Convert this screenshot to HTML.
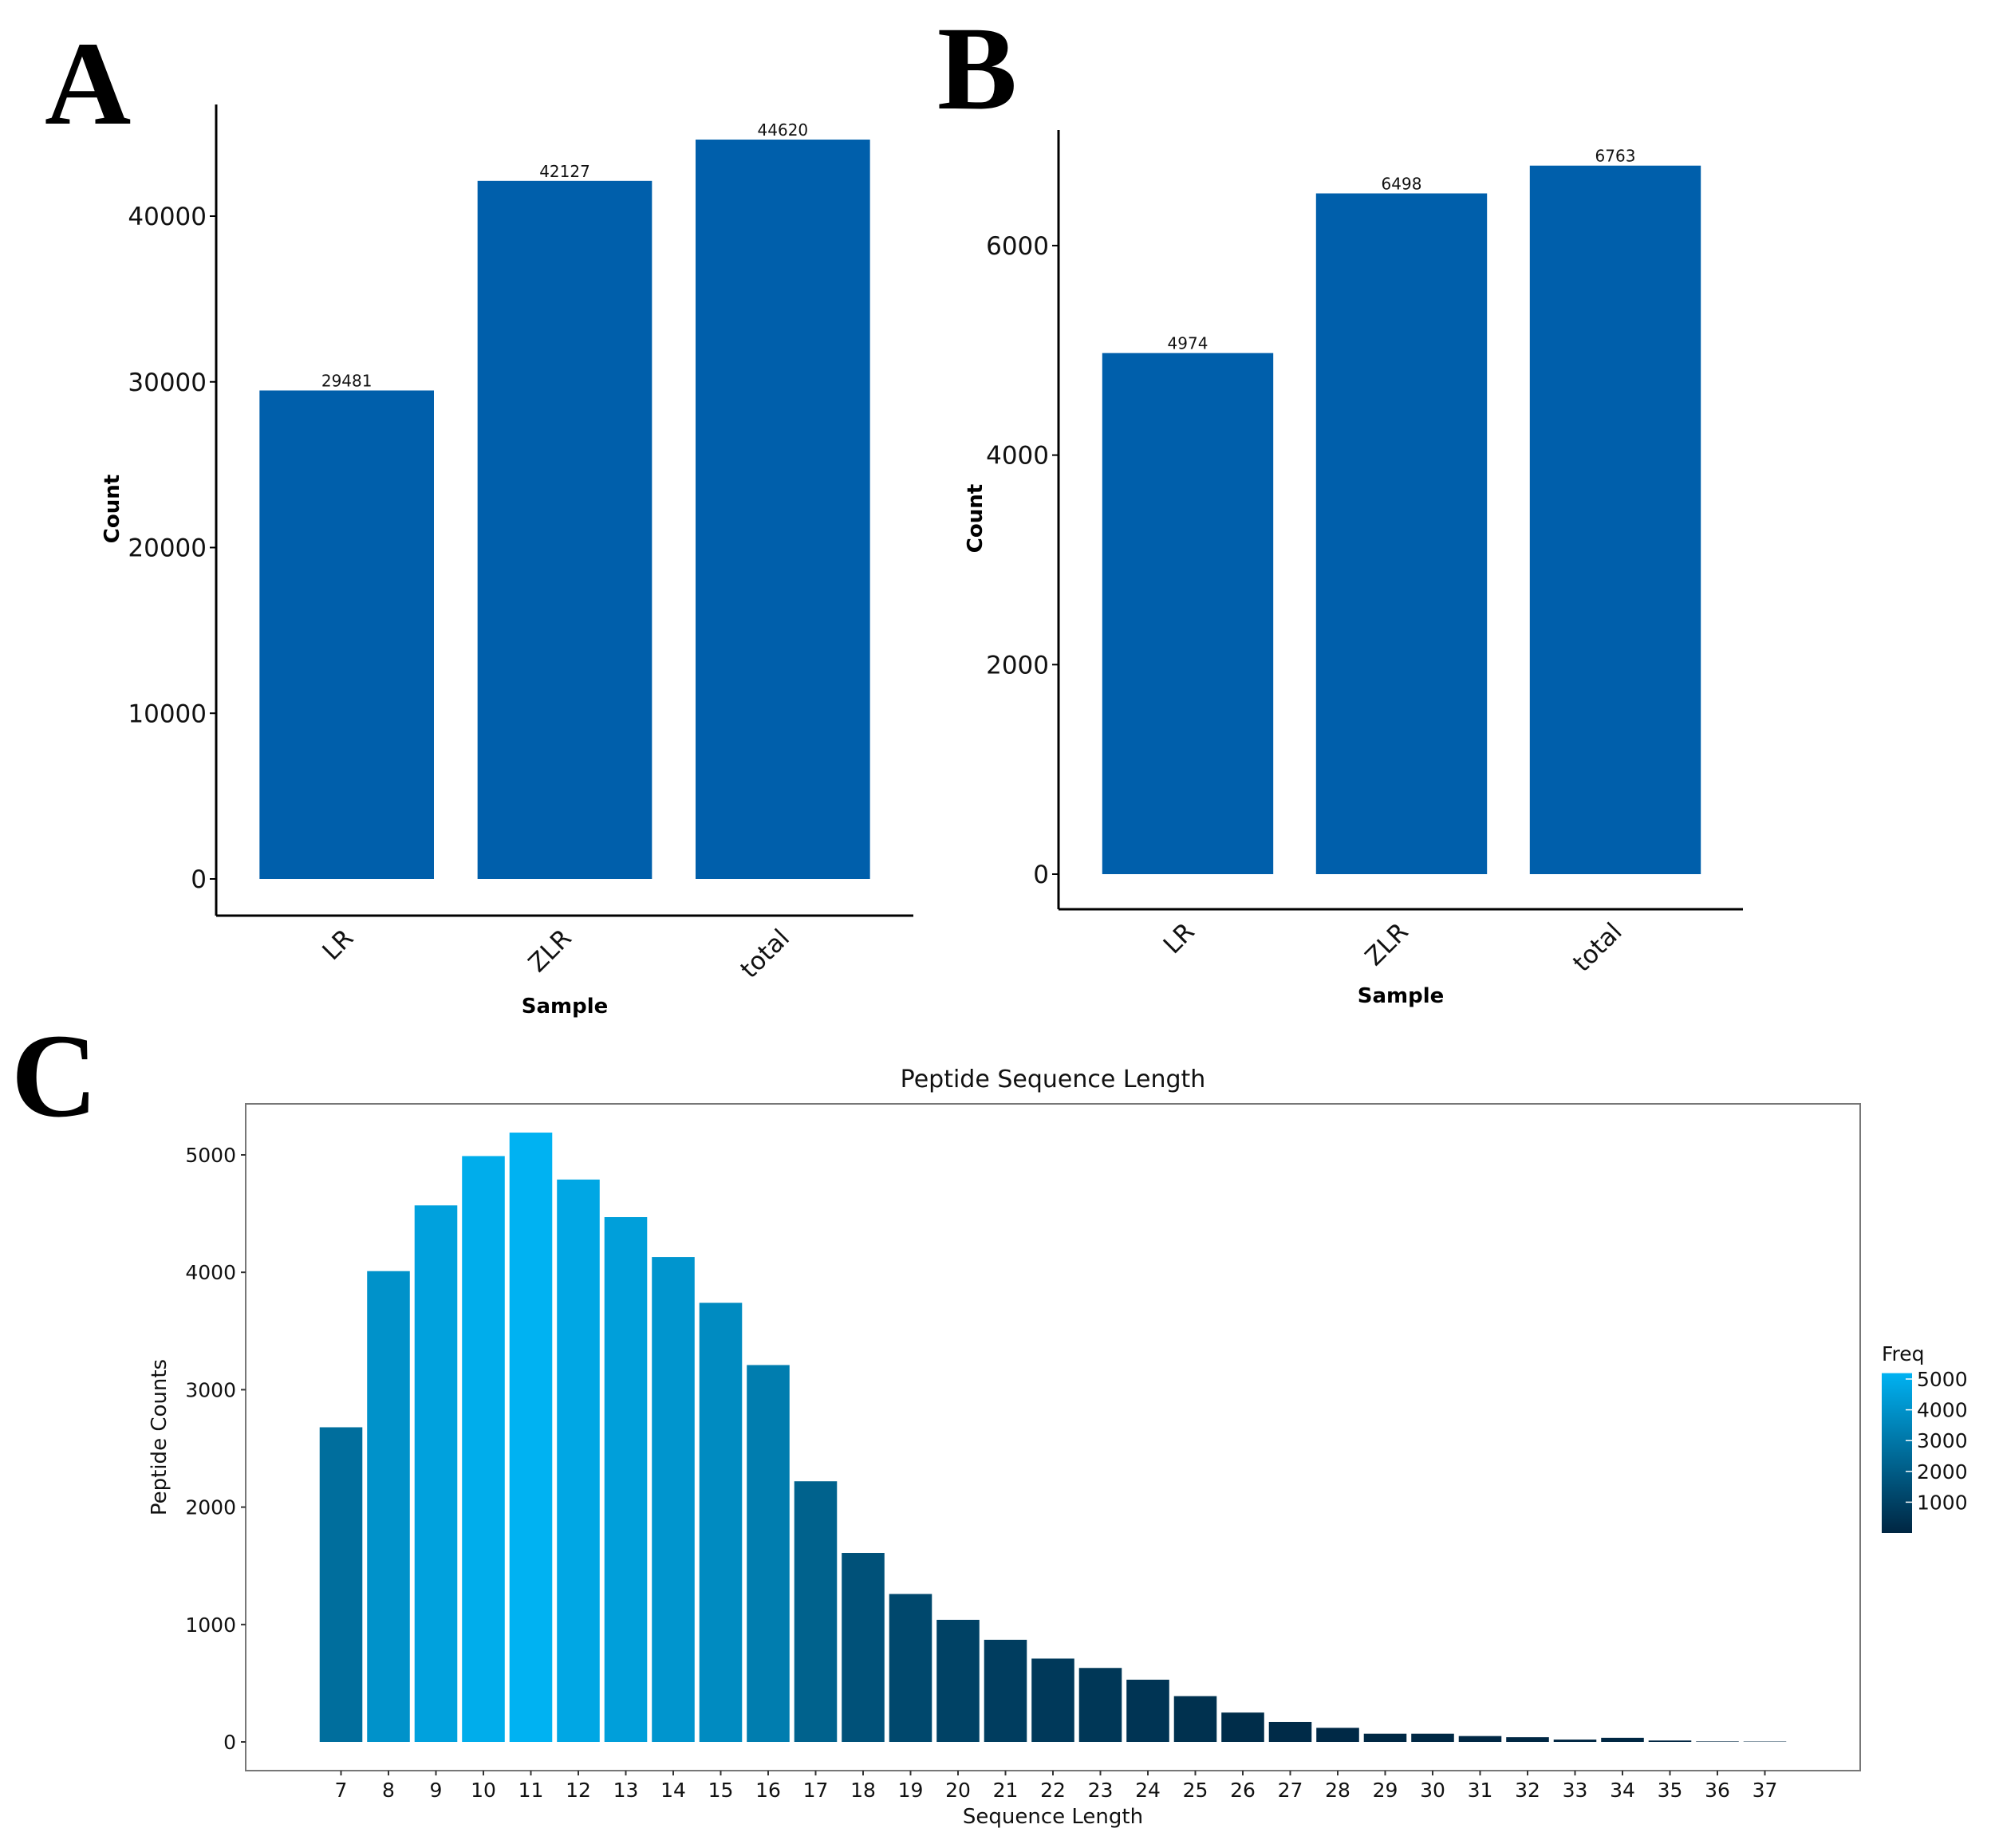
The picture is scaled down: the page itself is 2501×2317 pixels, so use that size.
<!DOCTYPE html>
<html><head><meta charset="utf-8"><style>
html,body{margin:0;padding:0;background:#fff}
svg{display:block}
text{font-family:"DejaVu Sans","Liberation Sans",sans-serif}
</style></head><body>
<svg id="fig" width="2501" height="2317" viewBox="0 0 2501 2317" xmlns="http://www.w3.org/2000/svg">
<text x="56" y="155" font-weight="bold" font-size="150" style="font-family:'Liberation Serif',serif">A</text>
<text x="1175" y="136" font-weight="bold" font-size="150" style="font-family:'Liberation Serif',serif">B</text>
<text x="14" y="1399" font-weight="bold" font-size="150" style="font-family:'Liberation Serif',serif">C</text>
<g id="pa"></g>
<g id="pb"></g>
<g id="pc"></g>
</svg>
<script>
const samplesA = ["LR","ZLR","total"];
const countsA = [29481,42127,44620];
const ticksA = [0,10000,20000,30000,40000];
const samplesB = ["LR","ZLR","total"];
const countsB = [4974,6498,6763];
const ticksB = [0,2000,4000,6000];
const lengthsC = [7,8,9,10,11,12,13,14,15,16,17,18,19,20,21,22,23,24,25,26,27,28,29,30,31,32,33,34,35,36,37];
const freqC = [2680,4010,4570,4990,5190,4790,4470,4130,3740,3210,2220,1610,1260,1040,870,710,630,530,390,250,170,120,70,70,50,40,20,35,12,4,3];
const ticksC = [0,1000,2000,3000,4000,5000];
const legendTicks = [1000,2000,3000,4000,5000];

const NS="http://www.w3.org/2000/svg";
function mk(parent,tag,attrs,txt){const e=document.createElementNS(NS,tag);for(const k in attrs)e.setAttribute(k,attrs[k]);if(txt!==undefined)e.textContent=txt;parent.appendChild(e);return e;}

function barPanel(g,cats,vals,ticks,cfg){
  const y=v=>cfg.y0-(v/cfg.tickStep)*cfg.tickPx;
  const band=(cfg.xEnd-cfg.xStart)/cats.length;
  const x=i=>cfg.xStart+band*i;
  let ax=mk(g,'line',{x1:cfg.axX,y1:cfg.axTop,x2:cfg.axX,y2:cfg.axBot,stroke:'#000','stroke-width':3});
  
  
  ax=mk(g,'line',{x1:cfg.axX,y1:cfg.axBot,x2:cfg.axRight,y2:cfg.axBot,stroke:'#000','stroke-width':3});
  
  
  ticks.forEach(t=>{
    const tk=mk(g,'line',{x1:cfg.axX-8,y1:y(t),x2:cfg.axX,y2:y(t),stroke:'#000','stroke-width':2});
    
    
    const tl=mk(g,'text',{x:cfg.axX-12,y:y(t)+11,'text-anchor':'end','font-size':31,fill:'#111'},String(t));
    
    
  });
  vals.forEach((v,i)=>{
    const w=band*cfg.frac, bx=x(i)+(band-w)/2;
    const r=mk(g,'rect',{x:bx,y:y(v),width:w,height:cfg.y0-y(v),fill:'#005fab'});
    
    
    const vl=mk(g,'text',{x:bx+w/2,y:y(v)-5,'text-anchor':'middle','font-size':20,fill:'#111'},String(v));
    
    
    const cx=bx+w/2;
    const cl=mk(g,'text',{x:cx+10,y:cfg.axBot+30,'text-anchor':'end','font-size':31,fill:'#111',transform:`rotate(-45 ${cx+10} ${cfg.axBot+30})`},cats[i]);
    
    
  });
  const yt=mk(g,'text',{x:cfg.ylabX,y:cfg.ylabY,'text-anchor':'middle','font-size':26,'font-weight':'bold',transform:`rotate(-90 ${cfg.ylabX} ${cfg.ylabY})`},'Count');
  
  
  const xt=mk(g,'text',{x:cfg.xlabX,y:cfg.xlabY,'text-anchor':'middle','font-size':26,'font-weight':'bold'},'Sample');
  
  
}

barPanel(document.getElementById('pa'),samplesA,countsA,ticksA,{
  y0:1102,tickStep:10000,tickPx:207.75,axX:271,axTop:131,axBot:1148,axRight:1145,
  xStart:298,xEnd:1118,frac:0.80,ylabX:149,ylabY:638,xlabX:708,xlabY:1270});
barPanel(document.getElementById('pb'),samplesB,countsB,ticksB,{
  y0:1096,tickStep:2000,tickPx:262.7,axX:1327,axTop:163,axBot:1140,axRight:2185,
  xStart:1355,xEnd:2159,frac:0.80,ylabX:1231,ylabY:650,xlabX:1756,xlabY:1257});

// Panel C
(function(){
  const g=document.getElementById('pc');
  const L=308,R=2332,T=1384,B=2220,y0=2184,px1000=147.2;
  const y=v=>y0-v/1000*px1000;
  const step=59.5, x=l=>427.5+(l-7)*step;
  const lo=[0,38,66], hi=[0,178,242], vmin=0, vmax=5191;
  const col=v=>{const t=Math.max(0,Math.min(1,(v-vmin)/(vmax-vmin)));return 'rgb('+lo.map((c,i)=>Math.round(c+(hi[i]-c)*t)).join(',')+')';};
  const box=mk(g,'rect',{x:L,y:T,width:R-L,height:B-T,fill:'none',stroke:'#777','stroke-width':2});
  
  
  const tt=mk(g,'text',{x:1320,y:1363,'text-anchor':'middle','font-size':30,fill:'#111'},'Peptide Sequence Length');
  
  
  ticksC.forEach(t=>{
    const tk=mk(g,'line',{x1:L-6,y1:y(t),x2:L,y2:y(t),stroke:'#333','stroke-width':2});
    
    
    const tl=mk(g,'text',{x:L-12,y:y(t)+9,'text-anchor':'end','font-size':25,fill:'#111'},String(t));
    
    
  });
  freqC.forEach((v,i)=>{
    const l=lengthsC[i], w=step*0.9, bx=x(l)-w/2;
    const r=mk(g,'rect',{x:bx,y:y(v),width:w,height:y0-y(v),fill:col(v)});
    
    
    const tk=mk(g,'line',{x1:x(l),y1:B,x2:x(l),y2:B+6,stroke:'#333','stroke-width':2});
    
    
    const tl=mk(g,'text',{x:x(l),y:B+33,'text-anchor':'middle','font-size':25,fill:'#111'},String(l));
    
    
  });
  const xt=mk(g,'text',{x:1320,y:2286,'text-anchor':'middle','font-size':26,fill:'#111'},'Sequence Length');
  
  
  const yt=mk(g,'text',{x:208,y:1802,'text-anchor':'middle','font-size':26,fill:'#111',transform:'rotate(-90 208 1802)'},'Peptide Counts');
  
  
  const defs=mk(g,'defs',{});
  const lg=mk(defs,'linearGradient',{id:'freqgrad',x1:0,y1:1,x2:0,y2:0});
  mk(lg,'stop',{offset:'0','stop-color':col(vmin)});
  mk(lg,'stop',{offset:'1','stop-color':col(vmax)});
  const lt=mk(g,'text',{x:2359,y:1706,'font-size':25,fill:'#111'},'Freq');
  
  
  const lb=1922, lt5=1729, lpx=(lb-lt5)/(5000-vmin);
  const ly=v=>lb-(v-vmin)*lpx;
  const bar=mk(g,'rect',{x:2359,y:ly(vmax),width:38,height:lb-ly(vmax),fill:'url(#freqgrad)'});
  
  
  legendTicks.forEach(t=>{
    const tk=mk(g,'line',{x1:2389,y1:ly(t),x2:2397,y2:ly(t),stroke:'#fff','stroke-width':1.5});
    
    
    const tl=mk(g,'text',{x:2403,y:ly(t)+9,'font-size':25,fill:'#111'},String(t));
    
    
  });
})();
</script>
</body></html>
